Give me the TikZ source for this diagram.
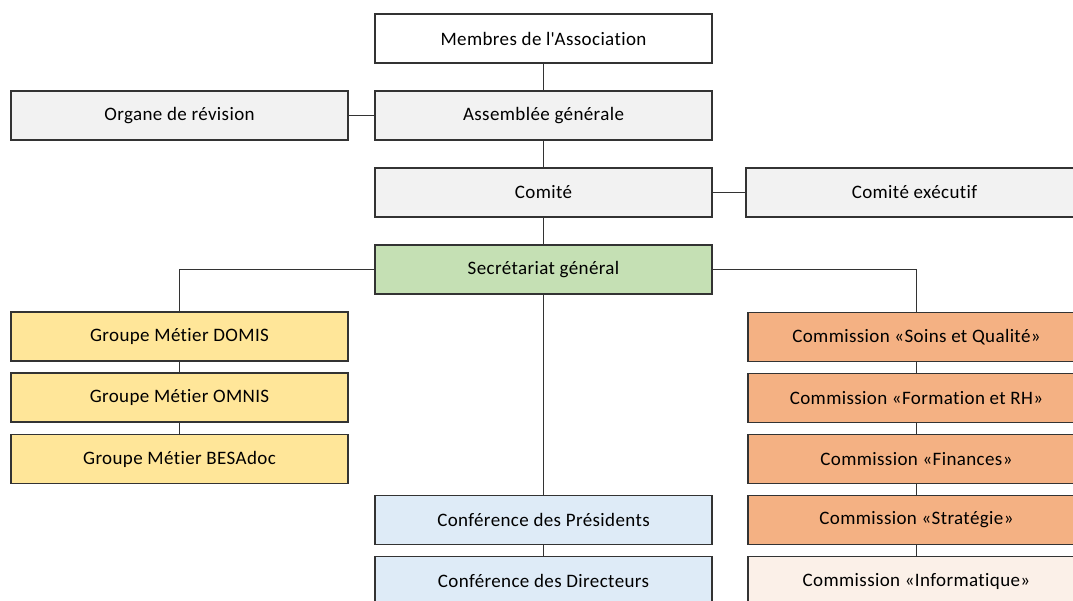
\documentclass[tikz,border=0pt]{standalone}
\usepackage{fontspec}
\setmainfont[LetterSpace=2,Ligatures=CommonOff]{Carlito}
\usepackage{tikz}
\usepackage{xcolor}
\definecolor{boxgray}{HTML}{F2F2F2}
\definecolor{boxgreen}{HTML}{C5E0B4}
\definecolor{boxyellow}{HTML}{FFE699}
\definecolor{boxorange}{HTML}{F4B183}
\definecolor{boxpale}{HTML}{FBF0E8}
\definecolor{boxblue}{HTML}{DEEBF7}
\definecolor{linegray}{HTML}{333333}

\begin{document}
\begin{tikzpicture}[x=1pt,y=-1pt,
    orgbox/.style={draw=linegray, line width=1.4pt, minimum width=337pt, minimum height=49pt,
                   inner sep=0pt, font=\fontsize{19}{22}\selectfont},
    link/.style={draw=linegray, line width=1.3pt}]
                % Frame
                \useasboundingbox (0,0) rectangle (1073,601);
                \clip (0,0) rectangle (1073,601);

                % Top of the chart
                \node[orgbox, fill=white] (membres) at (543.5,38.5) {Membres de l\textquotesingle Association};
                \node[orgbox, fill=boxgray] (assemblee) at (543.5,115.5) {Assemblée générale};
                \node[orgbox, fill=boxgray] (revision) at (179.5,115.5) {Organe de révision};
                \node[orgbox, fill=boxgray] (comite) at (543.5,192.5) {Comité};
                \node[orgbox, fill=boxgray] (executif) at (914.5,192.5) {Comité exécutif};
                \node[orgbox, fill=boxgreen] (secretariat) at (543.5,269.5) {Secrétariat général};

                % Groupes metier
                \node[orgbox, fill=boxyellow] (domis) at (179.5,336.5) {Groupe Métier DOMIS};
                \node[orgbox, fill=boxyellow] (omnis) at (179.5,397.5) {Groupe Métier OMNIS};
                \node[orgbox, fill=boxyellow] (besadoc) at (179.5,459) {Groupe Métier BESAdoc};

                % Conferences
                \node[orgbox, fill=boxblue] (presidents) at (543.5,520) {Conférence des Présidents};
                \node[orgbox, fill=boxblue] (directeurs) at (543.5,581) {Conférence des Directeurs};

                % Commissions
                \node[orgbox, fill=boxorange] (soins) at (916.5,337) {Commission «Soins et Qualité»};
                \node[orgbox, fill=boxorange] (formation) at (916.5,398) {Commission «Formation et RH»};
                \node[orgbox, fill=boxorange] (finances) at (916.5,459) {Commission «Finances»};
                \node[orgbox, fill=boxorange] (strategie) at (916.5,520) {Commission «Stratégie»};
                \node[orgbox, fill=boxpale] (informatique) at (916.5,581) {Commission «Informatique»};

                % Connections
                \draw[link] (membres) -- (assemblee);
                \draw[link] (assemblee) -- (revision);
                \draw[link] (assemblee) -- (comite);
                \draw[link] (comite) -- (executif);
                \draw[link] (comite) -- (secretariat);
                \draw[link] (secretariat.west) -| (domis.north);
                \draw[link] (secretariat.east) -| (soins.north);
                \draw[link] (secretariat) -- (presidents);
                \draw[link] (domis) -- (omnis);
                \draw[link] (omnis) -- (besadoc);
                \draw[link] (presidents) -- (directeurs);
                \draw[link] (soins) -- (formation);
                \draw[link] (formation) -- (finances);
                \draw[link] (finances) -- (strategie);
                \draw[link] (strategie) -- (informatique);
            \end{tikzpicture}
\end{document}
